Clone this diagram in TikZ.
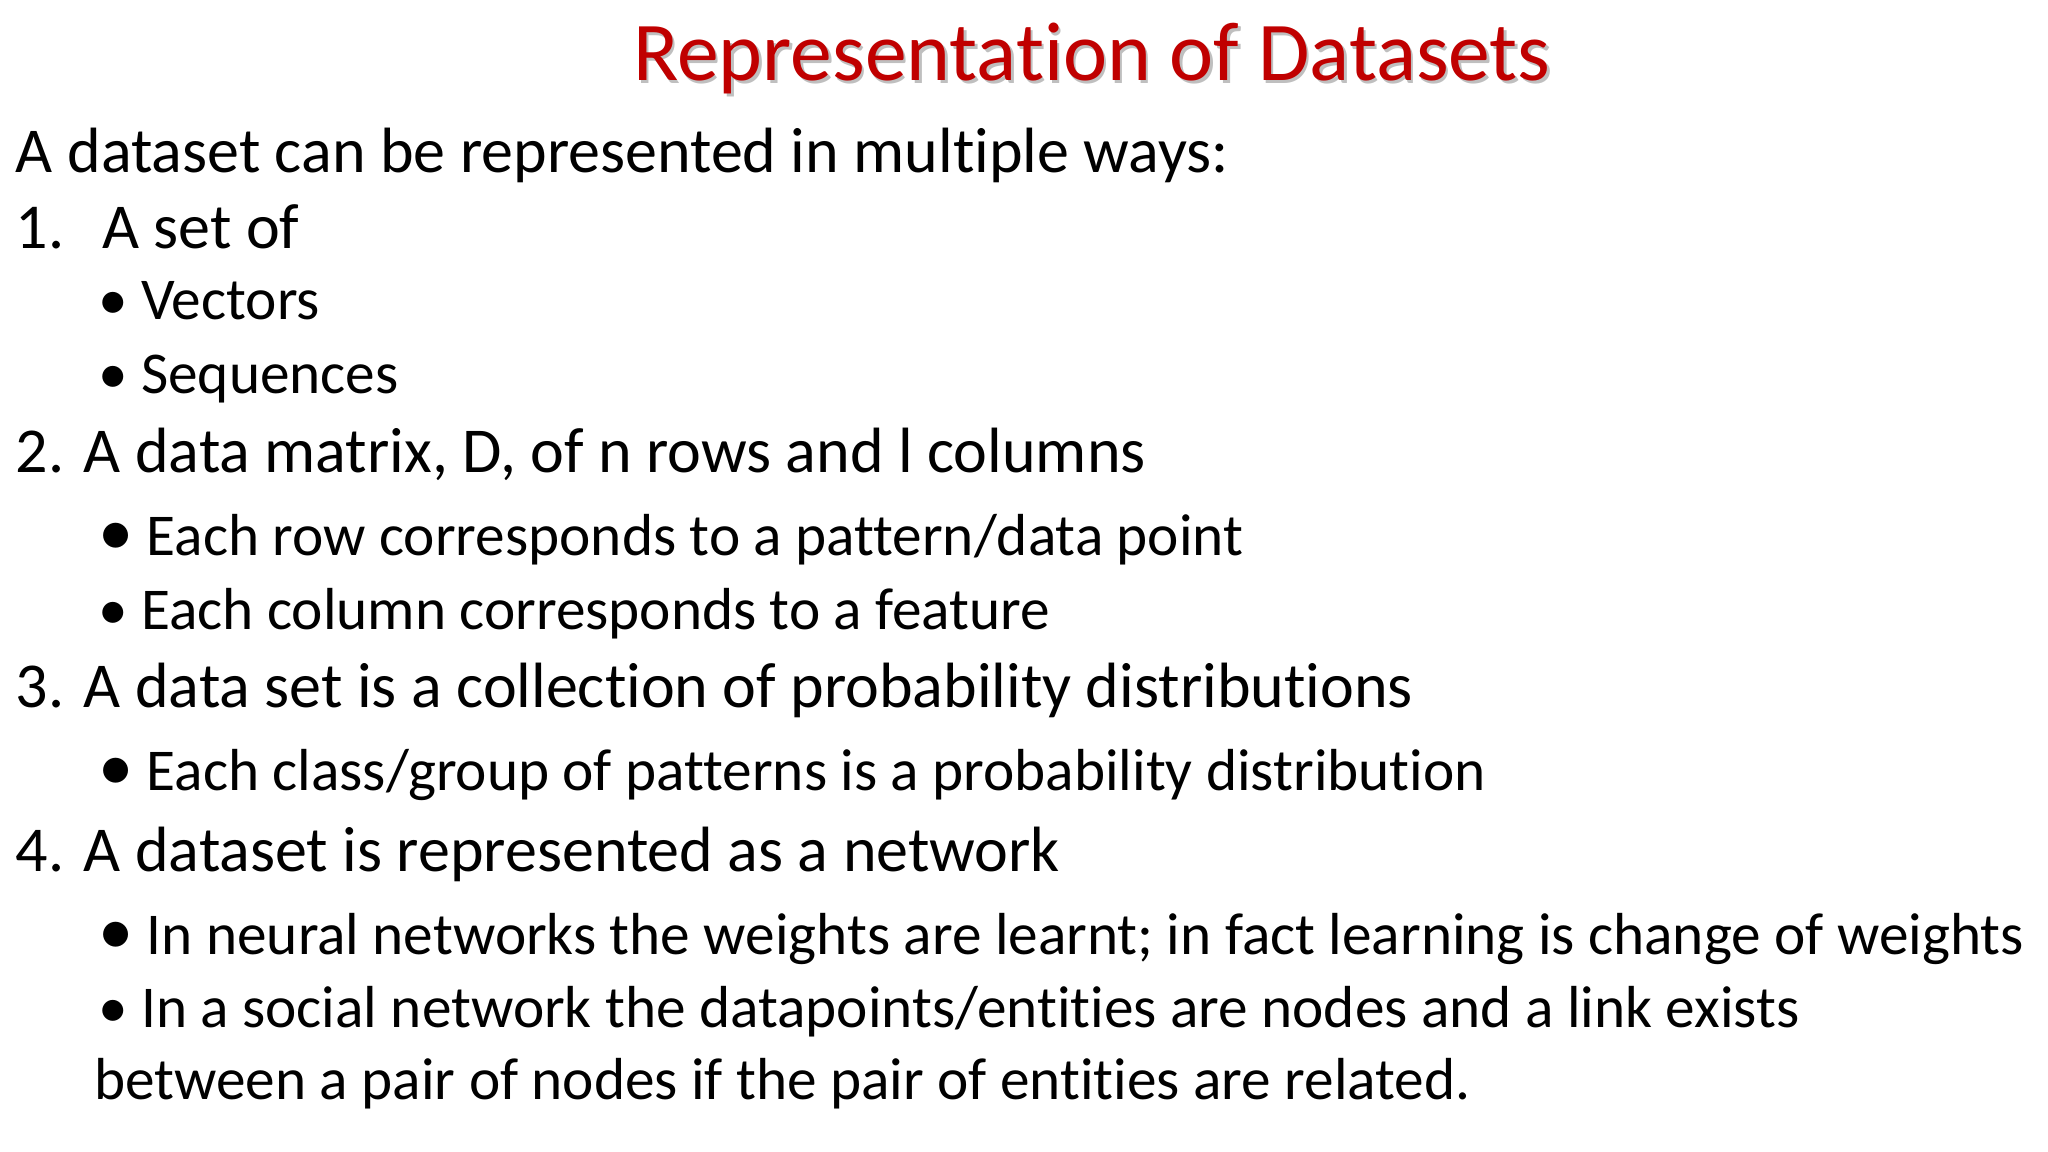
\documentclass[tikz,border=0pt]{standalone}
\usepackage{fontspec}
\setmainfont{Carlito}[Ligatures={NoCommon,TeX}]
\definecolor{titlered}{RGB}{192,0,0}
\newcommand{\bigbul}{{\fontsize{54}{54}\selectfont\textbullet}}
\begin{document}
\begin{tikzpicture}[x=1pt,y=1pt,
  txt/.style={anchor=base west,inner sep=0pt,font=\fontsize{49}{58}\selectfont},
  sub/.style={anchor=base west,inner sep=0pt,font=\fontsize{45.4}{54}\selectfont}]
\useasboundingbox (0,0) rectangle (1568,-882);
\node[anchor=base,inner sep=0pt,font=\fontsize{64}{72}\selectfont,text=gray!50] at (838,-64) {Representation of Datasets};
\node[anchor=base,inner sep=0pt,font=\fontsize{64}{72}\selectfont,text=titlered] (title) at (836,-62) {Representation of Datasets};
\node[txt] (l0) at (12,-132) {A dataset can be represented in multiple ways:};
\node[txt] (n1) at (12,-190) {1.};
\node[txt] (l1) at (78,-190) {A set of};
\node[sub] (b1) at (75,-245) {\textbullet\ Vectors};
\node[sub] (b2) at (75,-301) {\textbullet\ Sequences};
\node[txt] (l2) at (12,-362) {2. A data matrix, D, of n rows and l columns};
\node[sub] (b3) at (75,-425) {\bigbul\ Each row corresponds to a pattern/data point};
\node[sub] (b4) at (75,-482) {\textbullet\ Each column corresponds to a feature};
\node[txt] (l3) at (12,-542) {3. A data set is a collection of probability distributions};
\node[sub] (b5) at (75,-605) {\bigbul\ Each class/group of patterns is a probability distribution};
\node[txt] (l4) at (12,-667) {4. A dataset is represented as a network};
\node[sub] (b6) at (75,-731) {\bigbul\ In neural networks the weights are learnt; in fact learning is change of weights};
\node[sub] (b7) at (75,-787) {\textbullet\ In a social network the datapoints/entities are nodes and a link exists};
\node[sub] (b8) at (72,-842) {between a pair of nodes if the pair of entities are related.};
\end{tikzpicture}
\end{document}
